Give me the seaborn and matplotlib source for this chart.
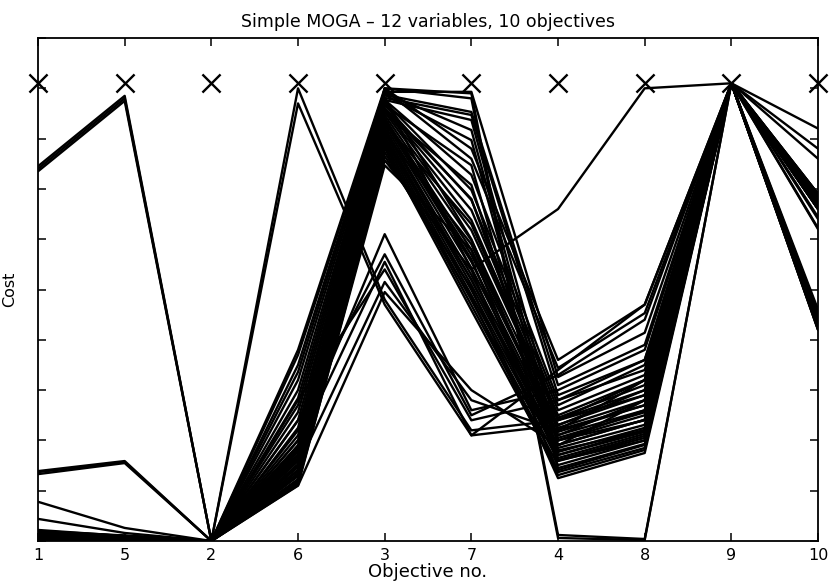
import matplotlib
matplotlib.use("Agg")
import matplotlib.pyplot as plt
import pandas as pd
import seaborn as sns

# ---------------- data ----------------
objective_labels = ["1", "5", "2", "6", "3", "7", "4", "8", "9", "10"]
goal_values = [0.91, 0.91, 0.91, 0.91, 0.91, 0.91, 0.91, 0.91, 0.91, 0.91]
cost_ticks = [0.0, 0.1, 0.2, 0.3, 0.4, 0.5, 0.6, 0.7, 0.8, 0.9, 1.0]

# each row: costs at objectives 1,5,2,6,3,7,4,8,9,10
outlier_lines = [
    [0.740, 0.880, 0.0, 0.900, 0.480, 0.220, 0.240, 0.320, 0.91, 0.430],
    [0.735, 0.875, 0.0, 0.870, 0.470, 0.210, 0.230, 0.300, 0.91, 0.440],
    [0.745, 0.885, 0.0, 0.140, 0.860, 0.680, 0.200, 0.240, 0.91, 0.680],
    [0.137, 0.157, 0.0, 0.120, 0.800, 0.520, 0.180, 0.220, 0.91, 0.670],
    [0.133, 0.155, 0.0, 0.130, 0.840, 0.560, 0.160, 0.200, 0.91, 0.660],
    [0.139, 0.159, 0.0, 0.160, 0.880, 0.600, 0.200, 0.260, 0.91, 0.690],
    [0.078, 0.026, 0.0, 0.170, 0.830, 0.630, 0.240, 0.290, 0.91, 0.420],
    [0.044, 0.016, 0.0, 0.150, 0.810, 0.590, 0.210, 0.280, 0.91, 0.680],
    [0.006, 0.006, 0.0, 0.220, 0.880, 0.540, 0.660, 0.900, 0.91, 0.820],
    [0.010, 0.008, 0.0, 0.170, 0.900, 0.890, 0.012, 0.004, 0.91, 0.780],
    [0.008, 0.006, 0.0, 0.180, 0.900, 0.880, 0.006, 0.002, 0.91, 0.760],
]

low_peak_lines = [
    [0.012, 0.004, 0.0, 0.200, 0.610, 0.260, 0.300, 0.380, 0.91, 0.670],
    [0.018, 0.008, 0.0, 0.240, 0.570, 0.250, 0.330, 0.440, 0.91, 0.680],
    [0.022, 0.010, 0.0, 0.190, 0.555, 0.210, 0.340, 0.470, 0.91, 0.660],
    [0.000, 0.002, 0.0, 0.280, 0.540, 0.240, 0.280, 0.360, 0.91, 0.430],
    [0.006, 0.004, 0.0, 0.150, 0.515, 0.280, 0.220, 0.320, 0.91, 0.440],
    [0.016, 0.006, 0.0, 0.110, 0.495, 0.300, 0.190, 0.280, 0.91, 0.420],
]

main_lines = [
    [0.004, 0.002, 0.0, 0.380, 0.900, 0.780, 0.360, 0.470, 0.91, 0.690],
    [0.006, 0.004, 0.0, 0.370, 0.897, 0.760, 0.344, 0.453, 0.91, 0.660],
    [0.002, 0.001, 0.0, 0.350, 0.893, 0.893, 0.326, 0.414, 0.91, 0.640],
    [0.008, 0.005, 0.0, 0.336, 0.887, 0.853, 0.310, 0.390, 0.91, 0.620],
    [0.010, 0.006, 0.0, 0.320, 0.881, 0.847, 0.290, 0.360, 0.91, 0.680],
    [0.012, 0.007, 0.0, 0.300, 0.877, 0.728, 0.280, 0.340, 0.91, 0.670],
    [0.014, 0.008, 0.0, 0.284, 0.873, 0.698, 0.270, 0.350, 0.91, 0.665],
    [0.016, 0.009, 0.0, 0.270, 0.867, 0.678, 0.260, 0.330, 0.91, 0.660],
    [0.018, 0.010, 0.0, 0.256, 0.861, 0.658, 0.250, 0.320, 0.91, 0.644],
    [0.020, 0.011, 0.0, 0.240, 0.857, 0.638, 0.245, 0.310, 0.91, 0.622],
    [0.003, 0.002, 0.0, 0.225, 0.853, 0.618, 0.241, 0.300, 0.91, 0.430],
    [0.005, 0.003, 0.0, 0.210, 0.847, 0.598, 0.231, 0.290, 0.91, 0.440],
    [0.007, 0.004, 0.0, 0.200, 0.841, 0.579, 0.225, 0.280, 0.91, 0.450],
    [0.009, 0.005, 0.0, 0.190, 0.837, 0.569, 0.221, 0.270, 0.91, 0.420],
    [0.011, 0.006, 0.0, 0.185, 0.833, 0.555, 0.211, 0.260, 0.91, 0.460],
    [0.013, 0.007, 0.0, 0.177, 0.827, 0.543, 0.205, 0.256, 0.91, 0.680],
    [0.015, 0.008, 0.0, 0.171, 0.821, 0.529, 0.200, 0.250, 0.91, 0.683],
    [0.017, 0.009, 0.0, 0.165, 0.817, 0.519, 0.191, 0.241, 0.91, 0.673],
    [0.019, 0.010, 0.0, 0.159, 0.811, 0.509, 0.185, 0.231, 0.91, 0.430],
    [0.001, 0.001, 0.0, 0.153, 0.805, 0.499, 0.177, 0.225, 0.91, 0.435],
    [0.003, 0.002, 0.0, 0.147, 0.799, 0.489, 0.171, 0.217, 0.91, 0.443],
    [0.005, 0.003, 0.0, 0.141, 0.793, 0.479, 0.161, 0.209, 0.91, 0.423],
    [0.007, 0.004, 0.0, 0.135, 0.787, 0.469, 0.151, 0.200, 0.91, 0.690],
    [0.009, 0.005, 0.0, 0.129, 0.781, 0.459, 0.141, 0.191, 0.91, 0.668],
    [0.011, 0.006, 0.0, 0.123, 0.773, 0.483, 0.131, 0.181, 0.91, 0.425],
    [0.013, 0.007, 0.0, 0.117, 0.765, 0.503, 0.125, 0.175, 0.91, 0.455],
    [0.015, 0.008, 0.0, 0.111, 0.757, 0.539, 0.137, 0.185, 0.91, 0.663],
    [0.017, 0.009, 0.0, 0.115, 0.747, 0.579, 0.159, 0.205, 0.91, 0.432],
    [0.019, 0.010, 0.0, 0.161, 0.887, 0.797, 0.171, 0.221, 0.91, 0.440],
    [0.002, 0.001, 0.0, 0.141, 0.891, 0.817, 0.191, 0.241, 0.91, 0.675],
    [0.004, 0.002, 0.0, 0.181, 0.877, 0.837, 0.217, 0.270, 0.91, 0.687],
    [0.006, 0.003, 0.0, 0.131, 0.867, 0.747, 0.145, 0.193, 0.91, 0.428],
    [0.008, 0.004, 0.0, 0.149, 0.853, 0.708, 0.165, 0.213, 0.91, 0.660],
]

# ---------------- long-form table ----------------
rows = []
line_id = 0
for group in (outlier_lines, low_peak_lines, main_lines):
    for costs in group:
        for pos, (lab, c) in enumerate(zip(objective_labels, costs)):
            rows.append({"line": line_id, "pos": pos, "objective": lab, "cost": c})
        line_id += 1
df = pd.DataFrame(rows)
goals = pd.DataFrame({"pos": list(range(len(objective_labels))), "cost": goal_values})

# ---------------- plot ----------------
sns.set_style("ticks")
plt.rcParams["font.family"] = ["DejaVu Sans"]
plt.rcParams["text.color"] = "black"
plt.rcParams["axes.labelcolor"] = "black"

fig = plt.figure(figsize=(8.3, 5.84), dpi=100)
ax = fig.add_axes([0.0458, 0.0736, 0.9398, 0.8613])

sns.lineplot(data=df, x="pos", y="cost", units="line", estimator=None,
             sort=False, color="black", linewidth=1.7, legend=False, ax=ax)
sns.scatterplot(data=goals, x="pos", y="cost", marker="x", s=170,
                color="black", linewidth=1.7, legend=False, ax=ax, zorder=5,
                clip_on=False)

ax.set_xlim(0, len(objective_labels) - 1)
ax.set_ylim(0, 1)
ax.set_xticks(range(len(objective_labels)))
ax.set_xticklabels(objective_labels, fontsize=11.5, color="black")
ax.set_yticks(cost_ticks)
ax.set_yticklabels([])
ax.tick_params(direction="in", top=True, right=True, length=6, width=1.1,
               colors="black", pad=5)
for s in ax.spines.values():
    s.set_color("black")
    s.set_linewidth(1.3)

ax.set_title("Simple MOGA \u2013 12 variables, 10 objectives", fontsize=12.5,
             pad=8, color="black")
ax.set_xlabel("Objective no.", fontsize=13, labelpad=0, color="black")
ax.set_ylabel("Cost", fontsize=11.5, labelpad=10, color="black")

fig.savefig("out.png", dpi=100)
